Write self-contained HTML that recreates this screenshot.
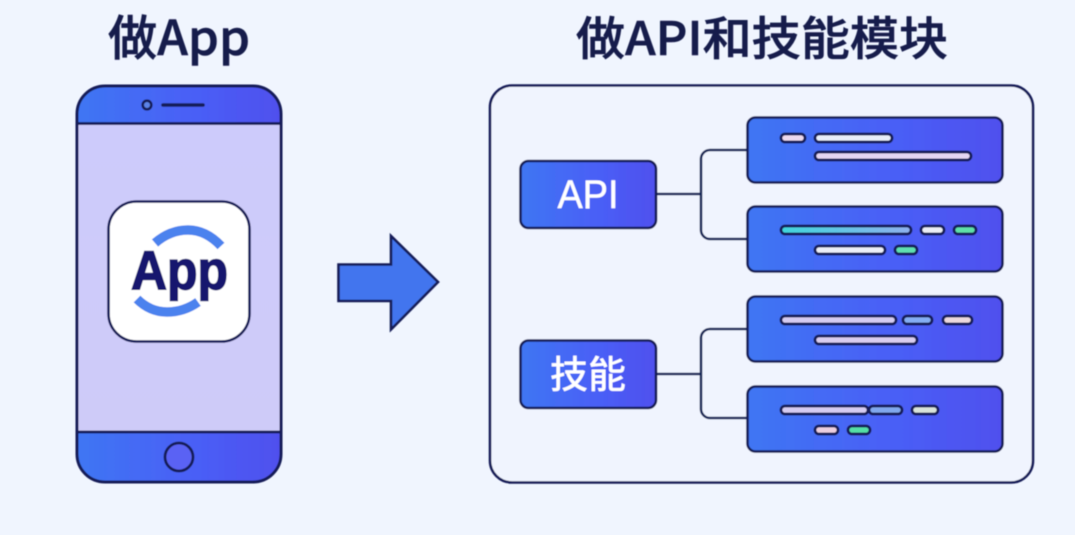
<!DOCTYPE html>
<html><head><meta charset="utf-8"><style>
html,body{margin:0;padding:0;width:1075px;height:535px;overflow:hidden;background:#f0f5fe}
svg{display:block}
text{font-family:"Liberation Sans","Noto Sans CJK SC",sans-serif}
</style></head><body>
<svg width="1075" height="535" viewBox="0 0 1075 535" xmlns="http://www.w3.org/2000/svg">
<defs>
<linearGradient id="g" x1="0" y1="0" x2="1" y2="0"><stop offset="0" stop-color="#3f76f3"/><stop offset="0.6" stop-color="#4a5ef6"/><stop offset="1" stop-color="#5050ee"/></linearGradient>
<linearGradient id="scr" x1="0" y1="0" x2="0" y2="1"><stop offset="0" stop-color="#cdcbfb"/><stop offset="1" stop-color="#cfcbf8"/></linearGradient>
<linearGradient id="cy" x1="0" y1="0" x2="1" y2="0"><stop offset="0" stop-color="#3fd6dc"/><stop offset="1" stop-color="#8fb0ee"/></linearGradient>
<filter id="b" x="-5%" y="-5%" width="110%" height="110%"><feGaussianBlur stdDeviation="0.4"/></filter>
</defs>
<rect width="1075" height="535" fill="#f0f5fe"/>
<g filter="url(#b)">
<text x="179" y="55" text-anchor="middle" font-size="48" font-weight="500" fill="#141d4c" stroke="#141d4c" stroke-width="0.600" style="font-family:'Noto Sans CJK SC',sans-serif" textLength="142" lengthAdjust="spacingAndGlyphs">做App</text>
<text x="762" y="55" text-anchor="middle" font-size="46" font-weight="500" fill="#141d4c" stroke="#141d4c" stroke-width="0.600" style="font-family:'Noto Sans CJK SC',sans-serif" textLength="372" lengthAdjust="spacingAndGlyphs">做API和技能模块</text>

<!-- phone -->
<rect x="77" y="86" width="204" height="396" rx="28" fill="url(#scr)"/>
<path d="M77 123V114a28 28 0 0 1 28-28H253a28 28 0 0 1 28 28V123Z" fill="url(#g)"/>
<path d="M77 432V454a28 28 0 0 0 28 28H253a28 28 0 0 0 28-28V432Z" fill="url(#g)"/>
<rect x="77" y="86" width="204" height="396" rx="28" fill="none" stroke="#161f58" stroke-width="3"/>
<path d="M77 123.500H281M77 432H281" stroke="#161f58" stroke-width="2.800"/>
<circle cx="147" cy="105" r="4.300" fill="#5b83e8" stroke="#161f58" stroke-width="2.600"/>
<path d="M163 105H203" stroke="#161f58" stroke-width="3.600" stroke-linecap="round"/>
<circle cx="179" cy="457" r="14" fill="#5a62f4" stroke="#161f58" stroke-width="2.800"/>

<!-- icon -->
<rect x="108.500" y="201.500" width="141" height="140" rx="28" fill="#fff" stroke="#161f58" stroke-width="2.600"/>
<path d="M155 243Q170 230 188 230Q206 230 221 246" fill="none" stroke="#4b82ee" stroke-width="9.500" stroke-linecap="butt"/>
<path d="M137 299Q150 312 167 312Q184 312 198 302" fill="none" stroke="#4b82ee" stroke-width="9.500" stroke-linecap="butt"/>
<text x="131" y="289" font-size="55" font-weight="700" fill="#14196e" stroke="#14196e" stroke-width="1.600" textLength="97" lengthAdjust="spacingAndGlyphs">App</text>

<!-- arrow -->
<path d="M338.500 264.500H391V236L438 282L391 329.500V301H338.500Z" fill="#4275ee" stroke="#161f58" stroke-width="2.600"/>

<!-- frame -->
<rect x="490" y="85.500" width="543" height="397" rx="22" fill="#f0f4fe" stroke="#161f58" stroke-width="2.600"/>

<!-- connectors -->
<g fill="none" stroke="#182858" stroke-width="2.600">
<path d="M656 194H701M747 150H710a9 9 0 0 0-9 9V230a9 9 0 0 0 9 9H747"/>
<path d="M656 374H701M747 329H710a9 9 0 0 0-9 9V409a9 9 0 0 0 9 9H747"/>
</g>

<!-- left boxes -->
<rect x="520.500" y="161" width="135.500" height="67" rx="8" fill="url(#g)" stroke="#161f58" stroke-width="2.600"/>
<rect x="520.500" y="340.500" width="135.500" height="67.500" rx="8" fill="url(#g)" stroke="#161f58" stroke-width="2.600"/>
<text x="588" y="208" text-anchor="middle" font-size="40" fill="#fff" stroke="#fff" stroke-width="0.400" textLength="61" lengthAdjust="spacingAndGlyphs">API</text>
<text x="588" y="388" text-anchor="middle" font-size="38" font-weight="500" fill="#fff" style="font-family:'Noto Sans CJK SC',sans-serif">技能</text>

<!-- cards -->
<g stroke="#161f58" stroke-width="2.600" fill="url(#g)">
<rect x="747.500" y="117.500" width="255" height="65" rx="8"/>
<rect x="747.500" y="206.500" width="255" height="65" rx="8"/>
<rect x="747.500" y="296.500" width="255" height="65" rx="8"/>
<rect x="747.500" y="386.500" width="255" height="65" rx="8"/>
</g>

<!-- pills -->
<g stroke="#161f58" stroke-width="2.800">
<rect x="781" y="134" width="24" height="8" rx="4" fill="#ecd9ef"/>
<rect x="815" y="134" width="77" height="8" rx="4" fill="#e8eefa"/>
<rect x="815" y="152" width="156" height="8" rx="4" fill="#e4d6f3"/>

<rect x="781" y="226" width="130" height="8" rx="4" fill="url(#cy)"/>
<rect x="921" y="226" width="23" height="8" rx="4" fill="#ebeef6"/>
<rect x="954" y="226" width="22" height="8" rx="4" fill="#5fe0a8"/>
<rect x="815" y="246" width="70" height="8" rx="4" fill="#eceff8"/>
<rect x="895" y="246" width="22" height="8" rx="4" fill="#5fe0b0"/>

<rect x="781" y="316" width="115" height="8" rx="4" fill="#d5ccf2"/>
<rect x="903" y="316" width="29" height="8" rx="4" fill="#84aef4"/>
<rect x="943" y="316" width="29" height="8" rx="4" fill="#ecd9dd"/>
<rect x="815" y="336" width="102" height="8" rx="4" fill="#d9cdf0"/>

<rect x="781" y="406" width="87" height="8" rx="4" fill="#d5ccf2"/>
<rect x="869" y="406" width="33" height="8" rx="4" fill="#80a8ee"/>
<rect x="912" y="406" width="26" height="8" rx="4" fill="#d9e4da"/>
<rect x="815" y="426" width="23" height="8" rx="4" fill="#eccfe0"/>
<rect x="848" y="426" width="22" height="8" rx="4" fill="#55dfa6"/>
</g>
</g>
</svg>
</body></html>
